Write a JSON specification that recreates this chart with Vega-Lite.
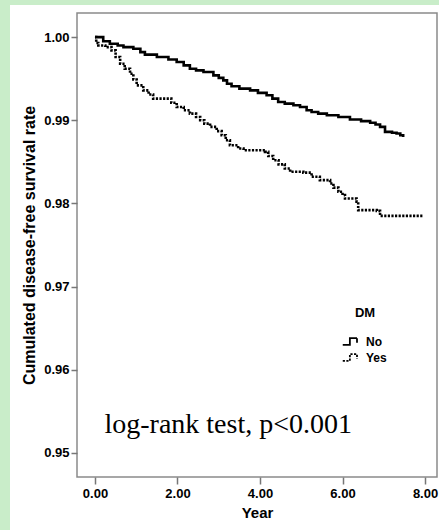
{
  "$schema": "https://vega.github.io/schema/vega-lite/v6.json",
  "autosize": {"type": "none"},
  "width": 360,
  "height": 464,
  "padding": {"left": 77, "top": 13, "right": 2, "bottom": 53},
  "background": "white",
  "config": {
    "view": {"stroke": "#8a8a8a", "strokeWidth": 1.5},
    "axis": {"grid": false, "domain": false, "tickColor": "#777", "tickWidth": 1.5, "labelColor": "black", "labelFont": "Liberation Sans Narrow, Arial Narrow, Liberation Sans", "labelFontWeight": "bold", "labelFontSize": 13, "titleFont": "Liberation Sans", "titleFontWeight": "bold", "titleColor": "black"}
  },
  "datasets": {
    "km": [
      {"g": "No", "t": 0, "s": 1.0},
      {"g": "No", "t": 0.2, "s": 0.9995},
      {"g": "No", "t": 0.36, "s": 0.9992},
      {"g": "No", "t": 0.55, "s": 0.999},
      {"g": "No", "t": 0.69, "s": 0.9988},
      {"g": "No", "t": 0.93, "s": 0.9986},
      {"g": "No", "t": 1.1, "s": 0.9982},
      {"g": "No", "t": 1.21, "s": 0.9979},
      {"g": "No", "t": 1.5, "s": 0.9976},
      {"g": "No", "t": 1.78, "s": 0.9973},
      {"g": "No", "t": 1.98, "s": 0.997},
      {"g": "No", "t": 2.15, "s": 0.9966},
      {"g": "No", "t": 2.3, "s": 0.9962},
      {"g": "No", "t": 2.45, "s": 0.996},
      {"g": "No", "t": 2.63, "s": 0.9958},
      {"g": "No", "t": 2.87, "s": 0.9954},
      {"g": "No", "t": 3.0, "s": 0.9951},
      {"g": "No", "t": 3.11, "s": 0.9948},
      {"g": "No", "t": 3.2, "s": 0.9944},
      {"g": "No", "t": 3.31, "s": 0.9941},
      {"g": "No", "t": 3.5, "s": 0.9938},
      {"g": "No", "t": 3.76, "s": 0.9936},
      {"g": "No", "t": 3.95, "s": 0.9933},
      {"g": "No", "t": 4.16, "s": 0.993},
      {"g": "No", "t": 4.3, "s": 0.9926},
      {"g": "No", "t": 4.44, "s": 0.9922},
      {"g": "No", "t": 4.6, "s": 0.992},
      {"g": "No", "t": 4.81, "s": 0.9918},
      {"g": "No", "t": 4.97, "s": 0.9916},
      {"g": "No", "t": 5.13, "s": 0.9912},
      {"g": "No", "t": 5.25, "s": 0.991},
      {"g": "No", "t": 5.41, "s": 0.9908},
      {"g": "No", "t": 5.62, "s": 0.9906},
      {"g": "No", "t": 5.9, "s": 0.9904},
      {"g": "No", "t": 6.18, "s": 0.9901},
      {"g": "No", "t": 6.45, "s": 0.9899},
      {"g": "No", "t": 6.67, "s": 0.9897},
      {"g": "No", "t": 6.8, "s": 0.9895},
      {"g": "No", "t": 6.91, "s": 0.9892},
      {"g": "No", "t": 7.03, "s": 0.9886},
      {"g": "No", "t": 7.2, "s": 0.9885},
      {"g": "No", "t": 7.31, "s": 0.9884},
      {"g": "No", "t": 7.4, "s": 0.9882},
      {"g": "No", "t": 7.47, "s": 0.988},
      {"g": "Yes", "t": 0, "s": 1.0},
      {"g": "Yes", "t": 0.03, "s": 0.9993},
      {"g": "Yes", "t": 0.08, "s": 0.999},
      {"g": "Yes", "t": 0.25, "s": 0.9988},
      {"g": "Yes", "t": 0.4, "s": 0.9984},
      {"g": "Yes", "t": 0.5, "s": 0.9976},
      {"g": "Yes", "t": 0.61, "s": 0.9968},
      {"g": "Yes", "t": 0.72, "s": 0.9962},
      {"g": "Yes", "t": 0.85, "s": 0.9956},
      {"g": "Yes", "t": 0.93, "s": 0.9949},
      {"g": "Yes", "t": 1.01, "s": 0.9942},
      {"g": "Yes", "t": 1.17, "s": 0.9936},
      {"g": "Yes", "t": 1.3, "s": 0.9931},
      {"g": "Yes", "t": 1.41, "s": 0.9926},
      {"g": "Yes", "t": 1.85, "s": 0.9921},
      {"g": "Yes", "t": 1.98, "s": 0.9916},
      {"g": "Yes", "t": 2.15, "s": 0.9912},
      {"g": "Yes", "t": 2.3, "s": 0.9908},
      {"g": "Yes", "t": 2.45, "s": 0.9904},
      {"g": "Yes", "t": 2.55, "s": 0.99},
      {"g": "Yes", "t": 2.65, "s": 0.9896},
      {"g": "Yes", "t": 2.79, "s": 0.9892},
      {"g": "Yes", "t": 2.95, "s": 0.9887},
      {"g": "Yes", "t": 3.07, "s": 0.9882},
      {"g": "Yes", "t": 3.17, "s": 0.9876},
      {"g": "Yes", "t": 3.27, "s": 0.987},
      {"g": "Yes", "t": 3.47, "s": 0.9866},
      {"g": "Yes", "t": 3.6, "s": 0.9864},
      {"g": "Yes", "t": 4.12, "s": 0.9862},
      {"g": "Yes", "t": 4.2, "s": 0.9857},
      {"g": "Yes", "t": 4.32, "s": 0.9852},
      {"g": "Yes", "t": 4.45, "s": 0.9847},
      {"g": "Yes", "t": 4.6, "s": 0.9842},
      {"g": "Yes", "t": 4.73, "s": 0.9838},
      {"g": "Yes", "t": 5.05, "s": 0.9837},
      {"g": "Yes", "t": 5.25, "s": 0.9832},
      {"g": "Yes", "t": 5.45, "s": 0.9828},
      {"g": "Yes", "t": 5.7, "s": 0.9824},
      {"g": "Yes", "t": 5.78, "s": 0.9819},
      {"g": "Yes", "t": 5.9, "s": 0.9814},
      {"g": "Yes", "t": 6.0, "s": 0.981},
      {"g": "Yes", "t": 6.06, "s": 0.9806},
      {"g": "Yes", "t": 6.34, "s": 0.9802},
      {"g": "Yes", "t": 6.38, "s": 0.9792},
      {"g": "Yes", "t": 6.83, "s": 0.9791},
      {"g": "Yes", "t": 6.91, "s": 0.9785},
      {"g": "Yes", "t": 7.96, "s": 0.9785}
    ]
  },
  "layer": [
    {
      "data": {"values": [{}]},
      "mark": {"type": "rect", "fill": "#c9edc9", "clip": false},
      "encoding": {
        "x": {"datum": -2.5, "type": "quantitative", "scale": {"domain": [-0.436, 8.29], "nice": false, "zero": false}},
        "x2": {"datum": -2.06},
        "y": {"datum": 0.92, "type": "quantitative", "scale": {"domain": [0.9471, 1.0029], "nice": false, "zero": false}},
        "y2": {"datum": 1.02}
      }
    },
    {
      "data": {"values": [{}]},
      "mark": {"type": "rect", "fill": "#c9edc9", "clip": false},
      "encoding": {
        "x": {"datum": -2.5, "type": "quantitative"},
        "x2": {"datum": 9.5},
        "y": {"datum": 1.00386, "type": "quantitative"},
        "y2": {"datum": 1.02}
      }
    },
    {
      "data": {"name": "km"},
      "mark": {"type": "line", "interpolate": "step-after", "stroke": "black", "strokeWidth": 2.6, "strokeCap": "butt"},
      "encoding": {
        "x": {"field": "t", "type": "quantitative", "scale": {"domain": [-0.436, 8.29], "nice": false, "zero": false},
          "axis": {"values": [0, 2, 4, 6, 8], "format": ".2f", "title": "Year", "titleFontSize": 15, "tickSize": 7, "labelPadding": 3, "titlePadding": 5}},
        "y": {"field": "s", "type": "quantitative", "scale": {"domain": [0.9471, 1.0029], "nice": false, "zero": false},
          "axis": {"values": [0.95, 0.96, 0.97, 0.98, 0.99, 1.0], "format": ".2f", "title": "Cumulated disease-free survival rate", "titleFontSize": 16, "tickSize": 6, "labelPadding": 2, "titlePadding": 6}},
        "strokeDash": {"field": "g", "type": "nominal", "scale": {"domain": ["No", "Yes"], "range": [[1, 0], [2.2, 1.4]]},
          "legend": {"title": "DM", "orient": "none", "legendX": 267, "legendY": 294, "titleAnchor": "middle", "titleFont": "Liberation Sans", "titleFontSize": 13, "titleFontWeight": "bold", "titleColor": "black", "titlePadding": 13,
            "labelFont": "Liberation Sans", "labelFontSize": 12, "labelFontWeight": "bold", "labelColor": "black", "labelOffset": 5,
            "symbolType": "M-1.3,0.45H-0.35V-0.45H0.6V0.15", "symbolSize": 225, "symbolStrokeColor": "black", "symbolStrokeWidth": 1.8, "symbolFillColor": "transparent", "rowPadding": 0, "padding": 0}}
      }
    },
    {
      "data": {"values": [{}]},
      "mark": {"type": "text", "text": "log-rank test, p<0.001", "font": "Liberation Serif", "fontSize": 28, "align": "left", "baseline": "alphabetic", "color": "black"},
      "encoding": {
        "x": {"datum": 0.23, "type": "quantitative"},
        "y": {"datum": 0.9524, "type": "quantitative"}
      }
    }
  ]
}
